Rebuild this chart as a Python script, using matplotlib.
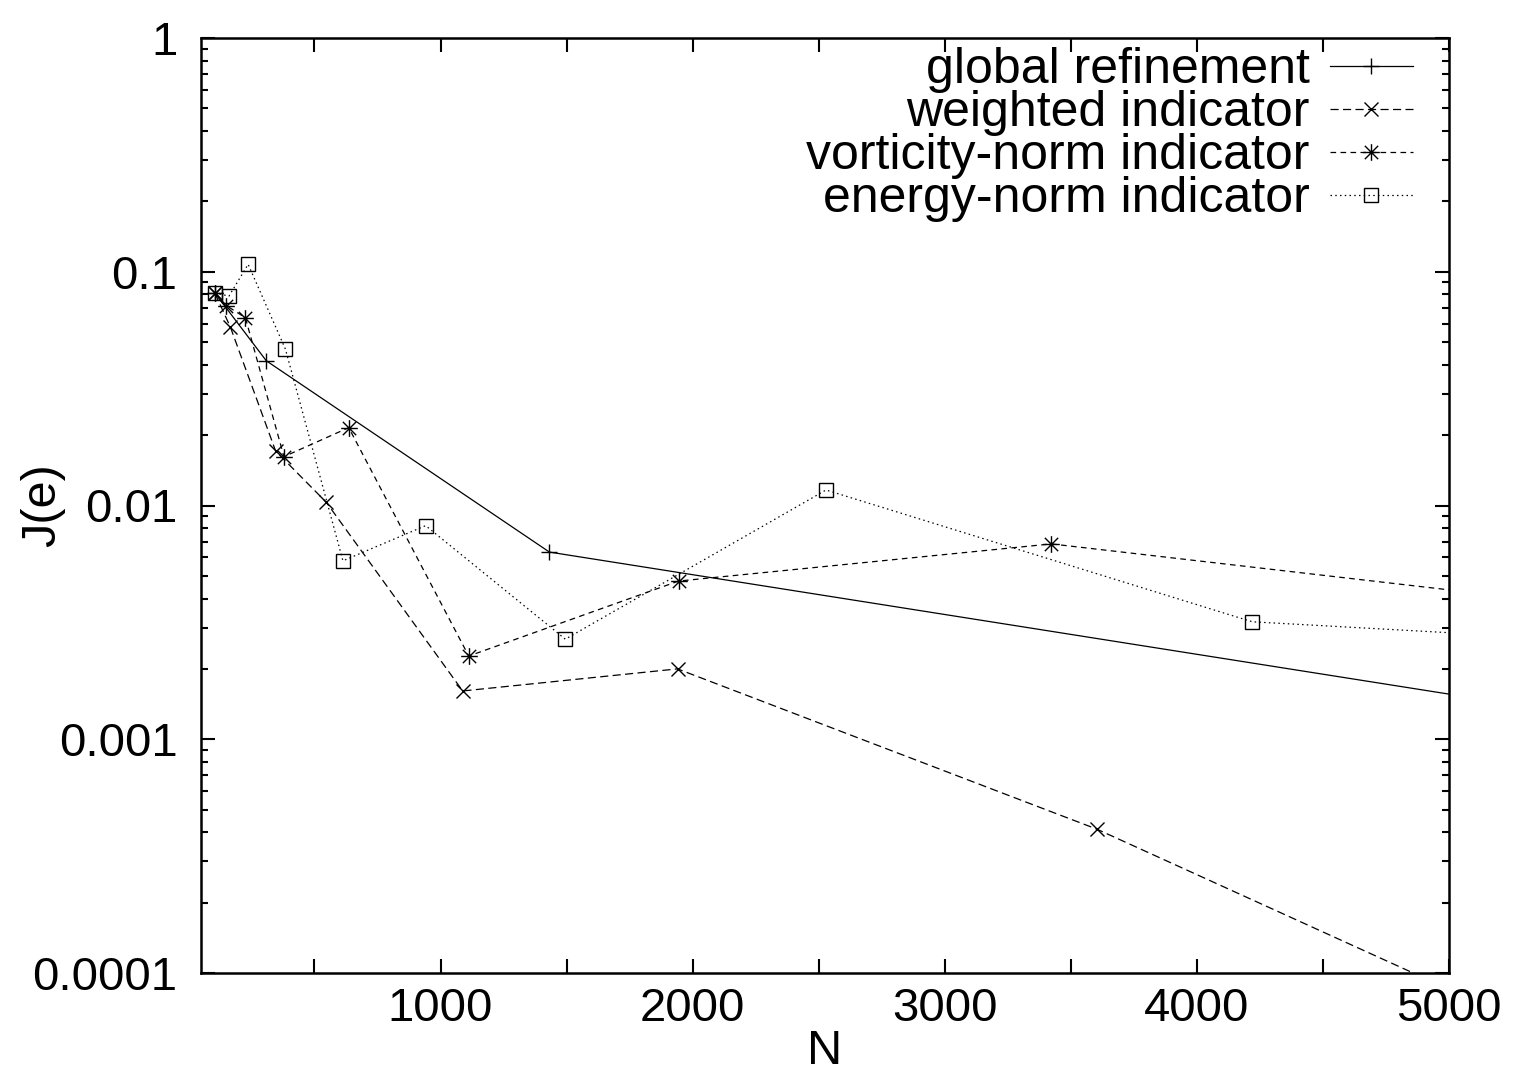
import matplotlib
matplotlib.use("Agg")
import matplotlib.pyplot as plt
from matplotlib.path import Path
from matplotlib.ticker import FixedLocator, LogLocator, NullFormatter

# ---- data ----
glob_N = [105, 309, 1432, 5800]
glob_J = [0.0811, 0.0416, 0.00632, 0.00114]

weight_N = [105, 167, 346, 547, 1088, 1940, 3602, 6700]
weight_J = [0.0811, 0.0578, 0.0171, 0.01032, 0.001609, 0.0020, 0.000413, 1.25e-5]

vort_N = [105, 151, 226, 379, 636, 1112, 1944, 3423, 6000]
vort_J = [0.0811, 0.0716, 0.0636, 0.01618, 0.02153, 0.00227, 0.00475, 0.00685, 0.00327]

energy_N = [105, 161, 237, 385, 613, 941, 1495, 2529, 4220, 6000]
energy_J = [0.0811, 0.0787, 0.1076, 0.0466, 0.0058, 0.0082, 0.00268, 0.01165, 0.00318, 0.00249]

labels = ["global refinement", "weighted indicator",
          "vorticity-norm indicator", "energy-norm indicator"]

xtick_vals = [500, 1000, 1500, 2000, 2500, 3000, 3500, 4000, 4500, 5000]
xtick_labels = ["", "1000", "", "2000", "", "3000", "", "4000", "", "5000"]
ytick_vals = [1e-4, 1e-3, 1e-2, 1e-1, 1]
ytick_labels = ["0.0001", "0.001", "0.01", "0.1", "1"]

plt.rcParams['font.family'] = ['Liberation Sans', 'DejaVu Sans']

fig = plt.figure(figsize=(15.15, 10.73), dpi=100)
ax = fig.add_axes([201/1515, 1 - 973/1073, 1248/1515, 935/1073])

# gnuplot style star marker (+ combined with x)
d = 0.8
star = Path([(-1, 0), (1, 0), (0, -1), (0, 1), (-d, -d), (d, d), (-d, d), (d, -d)],
            [Path.MOVETO, Path.LINETO] * 4)

lw = 0.9
ms = 10
ax.plot(glob_N, glob_J, color='black', lw=lw, ls='-', marker='+', ms=ms + 2,
        mew=1.0, label=labels[0])
ax.plot(weight_N, weight_J, color='black', lw=lw, ls=(0, (6.5, 3.5)), marker='x',
        ms=ms, mew=1.0, label=labels[1])
ax.plot(vort_N, vort_J, color='black', lw=lw, ls=(0, (4.5, 3.5)), marker=star,
        ms=ms + 2, mew=1.0, fillstyle='none', label=labels[2])
ax.plot(energy_N, energy_J, color='black', lw=lw, ls=(0, (1.2, 2.6)), marker='s',
        ms=ms - 0.5, mew=1.0, mfc='none', label=labels[3])

ax.set_yscale('log')
ax.set_xlim(50, 5000)
ax.set_ylim(1e-4, 1)

ax.xaxis.set_major_locator(FixedLocator(xtick_vals))
ax.set_xticklabels(xtick_labels)
ax.yaxis.set_major_locator(FixedLocator(ytick_vals))
ax.set_yticklabels(ytick_labels)
ax.yaxis.set_minor_locator(LogLocator(base=10, subs=range(2, 10), numticks=20))
ax.yaxis.set_minor_formatter(NullFormatter())

ax.tick_params(which='both', direction='in', top=True, right=True, width=1.5)
ax.tick_params(which='major', length=10, labelsize=34)
ax.tick_params(axis='y', which='major', pad=17)
ax.tick_params(axis='x', which='major', pad=10)
ax.tick_params(which='minor', length=5)
for s in ax.spines.values():
    s.set_linewidth(1.8)

ax.set_xlabel("N", fontsize=35)
ax.set_ylabel("J(e)", fontsize=35)
ax.xaxis.set_label_coords(0.5, -0.060)
ax.yaxis.set_label_coords(-0.109, 0.5)

ax.legend(loc='upper right', bbox_to_anchor=(0.971, 0.990), frameon=False,
          markerfirst=False, fontsize=36, handlelength=1.66, handletextpad=0.40,
          labelspacing=-0.06, borderpad=0, borderaxespad=0)

fig.savefig("out.png", dpi=100)
